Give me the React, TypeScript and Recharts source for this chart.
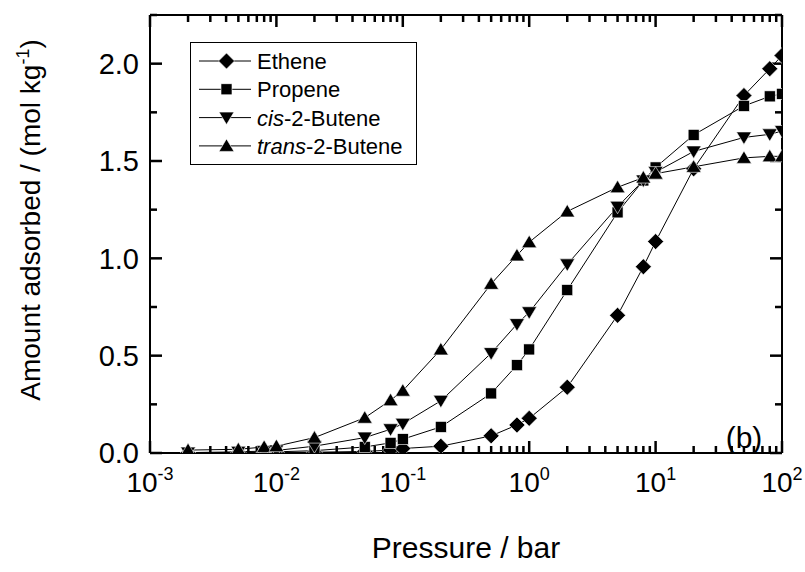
import React from "react"
import { Legend, Line, LineChart, ReferenceLine, XAxis, YAxis } from "recharts"

// pressure (bar) of every measured point
const pressures = [0.002, 0.005, 0.008, 0.01, 0.02, 0.05, 0.08, 0.1, 0.2, 0.5, 0.8, 1, 2, 5, 8, 10, 20, 50, 80, 100]

// amount adsorbed (mol/kg)
const ethene = [0.0, 0.001, 0.002, 0.002, 0.004, 0.008, 0.015, 0.023, 0.035, 0.088, 0.144, 0.178, 0.338, 0.707, 0.957, 1.086, 1.46, 1.836, 1.974, 2.042]
const propene = [0.001, 0.003, 0.005, 0.006, 0.012, 0.031, 0.052, 0.071, 0.134, 0.306, 0.451, 0.532, 0.837, 1.236, 1.4, 1.467, 1.634, 1.783, 1.832, 1.845]
const cisButene = [0.002, 0.006, 0.01, 0.013, 0.035, 0.079, 0.122, 0.15, 0.268, 0.513, 0.662, 0.723, 0.969, 1.265, 1.4, 1.443, 1.549, 1.621, 1.637, 1.654]
const transButene = [0.015, 0.019, 0.031, 0.035, 0.079, 0.181, 0.271, 0.32, 0.532, 0.869, 1.015, 1.083, 1.241, 1.365, 1.415, 1.435, 1.47, 1.516, 1.524, 1.524]

const yTicks = [0, 0.25, 0.5, 0.75, 1, 1.25, 1.5, 1.75, 2, 2.25]
const decades = [-3, -2, -1, 0, 1]

const xTicks: number[] = []
decades.forEach((k) => {
  for (let d = 1; d <= 9; d++) xTicks.push(d * Math.pow(10, k))
})
xTicks.push(100)

const rows = pressures.map((p, i) => ({
  p,
  ethene: ethene[i],
  propene: propene[i],
  cis: cisButene[i],
  trans: transButene[i],
}))

const FONT = "'Liberation Sans', Arial, Helvetica, sans-serif"

const W = 805
const H = 572
const M_TOP = 14
const M_RIGHT = 22
const X_H = 119
const Y_W = 150
const X_DOMAIN: [number, number] = [0.001, 100]
const Y_DOMAIN: [number, number] = [0, 2.25]
const FRAME = { left: Y_W, right: W - M_RIGHT - 1, top: M_TOP + 1, bottom: H - X_H }

// px per data unit, to turn tick lengths into data offsets
const pxPerDecade = (FRAME.right - FRAME.left) / Math.log10(X_DOMAIN[1] / X_DOMAIN[0])
const pxPerY = (FRAME.bottom - FRAME.top) / (Y_DOMAIN[1] - Y_DOMAIN[0])
const dy = (px: number) => px / pxPerY
const fx = (px: number) => Math.pow(10, px / pxPerDecade)

const MAJOR = 12
const MINOR = 7

type Kind = "diamond" | "square" | "down" | "up"

function Marker({ kind, cx, cy }: { kind: Kind; cx?: number; cy?: number }) {
  if (cx == null || cy == null || isNaN(cx) || isNaN(cy)) return null
  const st = { fill: "#000", stroke: "#fff", strokeWidth: 0.6 }
  if (kind === "diamond")
    return <polygon points={`${cx},${cy - 8} ${cx + 8},${cy} ${cx},${cy + 8} ${cx - 8},${cy}`} {...st} />
  if (kind === "square") return <rect x={cx - 5.5} y={cy - 5.5} width={11} height={11} {...st} />
  if (kind === "down")
    return <polygon points={`${cx - 7.5},${cy - 5.5} ${cx + 7.5},${cy - 5.5} ${cx},${cy + 7}`} {...st} />
  return <polygon points={`${cx - 7.5},${cy + 5.5} ${cx + 7.5},${cy + 5.5} ${cx},${cy - 7}`} {...st} />
}

const series: { key: string; kind: Kind; italic?: string; name: string }[] = [
  { key: "ethene", kind: "diamond", name: "Ethene" },
  { key: "propene", kind: "square", name: "Propene" },
  { key: "cis", kind: "down", italic: "cis", name: "-2-Butene" },
  { key: "trans", kind: "up", italic: "trans", name: "-2-Butene" },
]

const isMajorX = (v: number) => {
  const e = Math.log10(v)
  return Math.abs(e - Math.round(e)) < 1e-6
}
const isMajorY = (v: number) => Math.abs(v * 2 - Math.round(v * 2)) < 1e-6

function BottomLabel(props: any) {
  const { x, y, payload } = props
  if (!isMajorX(payload.value)) return <g />
  const exp = Math.round(Math.log10(payload.value))
  return (
    <text x={x} y={y + 39} textAnchor="middle" fontFamily={FONT} fontSize={28} fill="#000" stroke="none">
      10
      <tspan fontSize={18} dy={-12}>
        {exp}
      </tspan>
    </text>
  )
}

function LeftLabel(props: any) {
  const { x, y, payload } = props
  if (!isMajorY(payload.value) || payload.value > 2.2) return <g />
  return (
    <text x={x - 11} y={y} dy="0.36em" textAnchor="end" fontFamily={FONT} fontSize={29} fill="#000" stroke="none">
      {payload.value.toFixed(1)}
    </text>
  )
}

function LegendBox() {
  return (
    <svg width={228} height={124} style={{ display: "block" }}>
      <rect x={0.5} y={0.5} width={226} height={122} fill="#fff" stroke="#000" strokeWidth={1} />
      {series.map((s, i) => {
        const cy = 19 + i * 28.3
        return (
          <g key={s.key}>
            <line x1={9} y1={cy} x2={61} y2={cy} stroke="#000" strokeWidth={1} />
            <Marker kind={s.kind} cx={36.5} cy={cy} />
            <text x={67} y={cy + 8} fontFamily={FONT} fontSize={22} fill="#000">
              {s.italic && <tspan fontStyle="italic">{s.italic}</tspan>}
              {s.name}
            </text>
          </g>
        )
      })}
    </svg>
  )
}

// inward tick marks on all four sides
function tickSegments() {
  const segs: { key: string; seg: { x: number; y: number }[] }[] = []
  xTicks.forEach((v, i) => {
    const len = isMajorX(v) ? MAJOR : MINOR
    segs.push({ key: `xb${i}`, seg: [{ x: v, y: Y_DOMAIN[0] }, { x: v, y: Y_DOMAIN[0] + dy(len) }] })
    segs.push({ key: `xt${i}`, seg: [{ x: v, y: Y_DOMAIN[1] }, { x: v, y: Y_DOMAIN[1] - dy(len) }] })
  })
  yTicks.forEach((v, i) => {
    const len = isMajorY(v) ? MAJOR : MINOR
    segs.push({ key: `yl${i}`, seg: [{ x: X_DOMAIN[0], y: v }, { x: X_DOMAIN[0] * fx(len), y: v }] })
    segs.push({ key: `yr${i}`, seg: [{ x: X_DOMAIN[1], y: v }, { x: X_DOMAIN[1] / fx(len), y: v }] })
  })
  return segs
}

export default function App() {
  return (
    <div style={{ position: "absolute", left: 0, top: 0, width: W, height: H, background: "#fff" }}>
      <LineChart width={W} height={H} data={rows} margin={{ top: M_TOP, right: M_RIGHT, bottom: 0, left: 0 }}>
        <XAxis
          xAxisId="b"
          dataKey="p"
          type="number"
          scale="log"
          domain={X_DOMAIN}
          allowDataOverflow
          ticks={xTicks}
          interval={0}
          tick={BottomLabel}
          tickLine={false}
          tickSize={0}
          tickMargin={0}
          height={X_H}
          stroke="#000"
          strokeWidth={2}
          label={() => (
            <text x={466} y={558} textAnchor="middle" fontFamily={FONT} fontSize={30} fill="#000">
              Pressure / bar
            </text>
          )}
        />
        <XAxis
          xAxisId="t"
          orientation="top"
          dataKey="p"
          type="number"
          scale="log"
          domain={X_DOMAIN}
          allowDataOverflow
          ticks={xTicks}
          tick={false}
          tickLine={false}
          height={1}
          stroke="#000"
          strokeWidth={2}
        />
        <YAxis
          yAxisId="l"
          type="number"
          domain={Y_DOMAIN}
          allowDataOverflow
          ticks={yTicks}
          interval={0}
          tick={LeftLabel}
          tickLine={false}
          tickSize={0}
          tickMargin={0}
          width={Y_W}
          stroke="#000"
          strokeWidth={2}
          label={() => (
            <text
              transform="translate(40,220) rotate(-90)"
              textAnchor="middle"
              fontFamily={FONT}
              fontSize={28}
              fill="#000"
            >
              Amount adsorbed / (mol kg
              <tspan fontSize={18} dy={-11}>
                -1
              </tspan>
              <tspan dy={11}>)</tspan>
            </text>
          )}
        />
        <YAxis
          yAxisId="r"
          orientation="right"
          type="number"
          domain={Y_DOMAIN}
          allowDataOverflow
          ticks={yTicks}
          tick={false}
          tickLine={false}
          width={1}
          stroke="#000"
          strokeWidth={2}
          label={() => (
            <text x={744} y={448} textAnchor="middle" fontFamily={FONT} fontSize={30} fill="#000">
              (b)
            </text>
          )}
        />
        {tickSegments().map((t) => (
          <ReferenceLine
            key={t.key}
            xAxisId="b"
            yAxisId="l"
            segment={t.seg}
            stroke="#000"
            strokeWidth={2.5}
            ifOverflow="visible"
          />
        ))}
        <Legend
          layout="horizontal"
          verticalAlign="middle"
          content={() => <LegendBox />}
          wrapperStyle={{ left: 190, top: 42, width: 228, height: 124 }}
        />
        {series.map((s) => (
          <Line
            key={s.key}
            xAxisId="b"
            yAxisId="l"
            dataKey={s.key}
            type="linear"
            stroke="#000"
            strokeWidth={1}
            isAnimationActive={false}
            activeDot={false}
            dot={(props: any) => <Marker key={`${s.key}-${props.index}`} kind={s.kind} cx={props.cx} cy={props.cy} />}
          />
        ))}
      </LineChart>
    </div>
  )
}
